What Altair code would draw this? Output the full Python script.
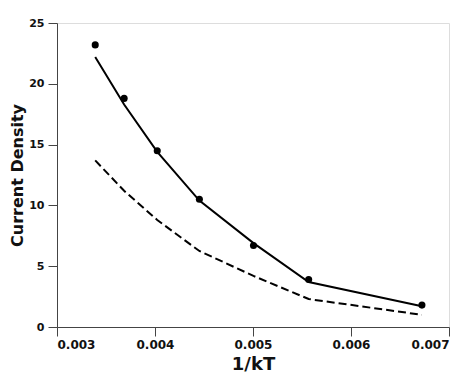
import altair as alt
import pandas as pd

inv_kT = [0.00339, 0.003685, 0.004023, 0.004453, 0.005005, 0.005568, 0.006724]
measured = [23.2, 18.8, 14.5, 10.5, 6.7, 3.9, 1.8]
fit_solid = [22.2, 18.3, 14.4, 10.4, 6.9, 3.7, 1.7]
fit_dashed = [13.7, 11.2, 8.8, 6.25, 4.2, 2.3, 1.0]

df = pd.DataFrame({"x": inv_kT, "meas": measured, "solid": fit_solid, "dashed": fit_dashed})

FONT = "DejaVu Sans"
xs = alt.Scale(domain=[0.003, 0.007], nice=False, zero=False)
ys = alt.Scale(domain=[0, 25], nice=False)

xax = alt.Axis(title="1/kT", values=[0.003, 0.004, 0.005, 0.006, 0.007], format=".3f",
               grid=False, labelFont=FONT, labelFontWeight="bold", labelFontSize=12,
               titleFont=FONT, titleFontWeight="bold", titleFontSize=18,
               tickSize=9, labelPadding=3, titlePadding=5, domainColor="#444", tickColor="#444",
               labelColor="#111", titleColor="#111")
yax = alt.Axis(title="Current Density", values=[0, 5, 10, 15, 20, 25], grid=False,
               labelFont=FONT, labelFontWeight="bold", labelFontSize=11,
               titleFont=FONT, titleFontWeight="bold", titleFontSize=16,
               tickSize=9, labelPadding=4, titlePadding=3, domainColor="#444", tickColor="#444",
               labelColor="#111", titleColor="#111")

base = alt.Chart(df)
solid = base.mark_line(color="black", strokeWidth=2).encode(
    x=alt.X("x:Q", scale=xs, axis=xax), y=alt.Y("solid:Q", scale=ys, axis=yax))
dashed = base.mark_line(color="black", strokeWidth=2, strokeDash=[8, 4]).encode(
    x=alt.X("x:Q", scale=xs), y=alt.Y("dashed:Q", scale=ys))
pts = base.mark_circle(color="black", size=50, opacity=1).encode(
    x=alt.X("x:Q", scale=xs), y=alt.Y("meas:Q", scale=ys))

chart = alt.layer(solid, dashed, pts).properties(
    width=392, height=304,
    padding={"left": 49, "top": 15, "right": 14, "bottom": 46},
    autosize=alt.AutoSizeParams(type="none"),
).configure_view(stroke=None).configure(background="white")

chart.save("out.html", embed_options={"renderer": "svg", "actions": False})
